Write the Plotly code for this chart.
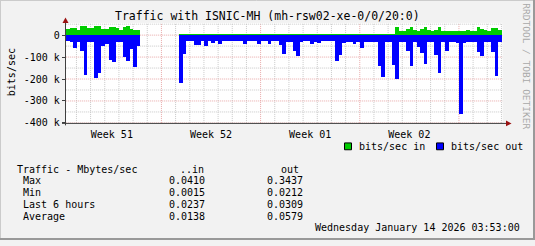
import plotly.graph_objects as go

W, H = 535, 246
nan = float("nan")

# ---- data (k bits/sec), one value per 6-hour step ----
in_k = ([27, 31, 31, 22, 40, 40, 31, 31, 40, 40, 27, 27, 36, 36, 31, 22, 36, 40, 27, 22, 22]
        + [nan] * 11
        + [4] * 60 + [7]
        + [36, 18, 18, 27, 36, 22, 18, 27, 36, 22, 18, 22, 36, 18, 18, 18, 18, 18, 18, 18,
           22, 18, 18, 36, 27, 22, 18, 31, 31, 22])

out_k = ([-25, -30, -56, -30, -70, -181, -30, -30, -196, -170, -47, -40, -114, -121, -33, -33,
          -100, -119, -62, -145, -47]
         + [nan] * 11
         + [-218, -84, -27, -27, -44, -44, -27, -47, -27, -36, -27, -38, -27, -27, -27, -27,
            -27, -27, -40, -27, -27, -27, -40, -27, -27, -38, -27, -27, -44, -84, -30, -30,
            -70, -96, -30, -25, -25, -40, -30, -36, -27, -27, -27, -27, -119, -89, -37, -30,
            -30, -40, -30, -59, -30, -30, -30, -30, -141, -190, -30, -30, -136]
         + [-200, -33, -33, -74, -141, -33, -55, -81, -132, -30, -33, -92, -170, -30, -70,
            -30, -30, -37, -358, -36, -33, -33, -33, -77, -96, -33, -33, -77, -185, -33])

steps = list(range(len(in_k)))

week_labels = ["Week 51", "Week 52", "Week 01", "Week 02"]
week_label_pos = [13, 41, 69, 97]
week_lines = [27, 55, 83, 111]
day_lines = [d for d in range(3, 124, 4) if d not in week_lines]

y_ticks = [0, -100, -200, -300, -400]
y_ticktext = ["0", "-100 k", "-200 k", "-300 k", "-400 k"]
y_minor = [50, -50, -150, -250, -350]

stats_rows = ["Max", "Min", "Last 6 hours", "Average"]
stats_in = ["0.0410", "0.0015", "0.0237", "0.0138"]
stats_out = ["0.3437", "0.0212", "0.0309", "0.0579"]

GREEN = "#00CC00"
BLUE = "#0000FF"
FONT = "DejaVu Sans Mono"
GRID = "#C8C8C8"
MGRID = "#E8A8A8"

X_RANGE = [0, 123.3]
Y_RANGE = [-400, 55.6]
PX_L, PX_R = 65.8, 502.5
PY_T, PY_B = 23.5, 126.0


def px(x):
    return x / W


def py(y):
    return 1 - y / H


fig = go.Figure()
fig.add_trace(go.Bar(x=steps, y=in_k, width=1, offset=0, marker=dict(color=GREEN, line=dict(width=0)),
                     showlegend=False, hoverinfo="skip"))
fig.add_trace(go.Bar(x=steps, y=out_k, width=1, offset=0, marker=dict(color=BLUE, line=dict(width=0)),
                     showlegend=False, hoverinfo="skip"))

shapes = []
dot = "1px,1px"
for d in day_lines:
    shapes.append(dict(type="line", xref="x", yref="y", x0=d, x1=d, y0=Y_RANGE[0], y1=Y_RANGE[1],
                       line=dict(color=GRID, width=1, dash=dot), layer="below"))
for d in week_lines:
    shapes.append(dict(type="line", xref="x", yref="y", x0=d, x1=d, y0=Y_RANGE[0], y1=Y_RANGE[1],
                       line=dict(color=MGRID, width=1, dash=dot), layer="below"))
for v in y_minor:
    shapes.append(dict(type="line", xref="x", yref="y", x0=X_RANGE[0], x1=X_RANGE[1], y0=v, y1=v,
                       line=dict(color=GRID, width=1, dash=dot), layer="below"))
for v in y_ticks:
    shapes.append(dict(type="line", xref="x", yref="y", x0=X_RANGE[0], x1=X_RANGE[1], y0=v, y1=v,
                       line=dict(color=MGRID, width=1, dash=dot), layer="below"))

AX = "#404040"
ARROW = "#9A1010"
# axes lines
shapes.append(dict(type="line", xref="paper", yref="paper", x0=px(65.5), x1=px(65.5), y0=py(128.5), y1=py(22),
                   line=dict(color=AX, width=1)))
shapes.append(dict(type="line", xref="paper", yref="paper", x0=px(62), x1=px(507), y0=py(126.5), y1=py(126.5),
                   line=dict(color=AX, width=1)))
# arrows
shapes.append(dict(type="path", xref="paper", yref="paper",
                   path=f"M {px(62.5)} {py(23.5)} L {px(68.5)} {py(23.5)} L {px(65.5)} {py(18)} Z",
                   fillcolor=ARROW, line=dict(width=0)))
shapes.append(dict(type="path", xref="paper", yref="paper",
                   path=f"M {px(506)} {py(123.5)} L {px(506)} {py(129.5)} L {px(511.5)} {py(126.5)} Z",
                   fillcolor=ARROW, line=dict(width=0)))
# legend boxes
shapes.append(dict(type="rect", xref="paper", yref="paper", x0=px(344.5), x1=px(351.5), y0=py(153.5), y1=py(146.5),
                   fillcolor=GREEN, line=dict(color="black", width=1)))
shapes.append(dict(type="rect", xref="paper", yref="paper", x0=px(436.5), x1=px(443.5), y0=py(153.5), y1=py(146.5),
                   fillcolor=BLUE, line=dict(color="black", width=1)))
# border shading
shapes.append(dict(type="line", xref="paper", yref="paper", x0=0, x1=1, y0=py(0.5), y1=py(0.5),
                   line=dict(color="#CBCBCB", width=1)))
shapes.append(dict(type="line", xref="paper", yref="paper", x0=px(0.5), x1=px(0.5), y0=0, y1=1,
                   line=dict(color="#CBCBCB", width=1)))
shapes.append(dict(type="line", xref="paper", yref="paper", x0=0, x1=1, y0=py(245), y1=py(245),
                   line=dict(color="#999999", width=2)))
shapes.append(dict(type="line", xref="paper", yref="paper", x0=px(534), x1=px(534), y0=0, y1=1,
                   line=dict(color="#999999", width=2)))

ann = []


def text(t, x, y, size=10, anchor="left", color="black", angle=0):
    ann.append(dict(text=t, x=px(x), y=py(y), xref="paper", yref="paper", showarrow=False,
                    xanchor=anchor, yanchor="middle", textangle=angle,
                    font=dict(family=FONT, size=size, color=color)))


text("Traffic with ISNIC-MH (mh-rsw02-xe-0/0/20:0)", 267.5, 16.5, size=11.5, anchor="center")
text("bits/sec", 11, 74, anchor="center", angle=-90)
text("RRDTOOL / TOBI OETIKER", 527, 68, size=9.5, anchor="center", color="#A8A8A8", angle=90)
text("bits/sec in", 357, 150)
text("bits/sec out", 449, 150)
text("Traffic - Mbytes/sec", 15, 174)
text("..in", 206, 174, anchor="right")
text("out", 279, 174)
for i, (r, a, b) in enumerate(zip(stats_rows, stats_in, stats_out)):
    yy = 185.5 + 12.1 * i
    text(r, 21, yy)
    text(a, 206.5, yy, anchor="right")
    text(b, 304.5, yy, anchor="right")
text("Wednesday January 14 2026 03:53:00", 521.5, 233, anchor="right")

fig.update_layout(
    width=W, height=H, margin=dict(l=0, r=0, t=0, b=0),
    paper_bgcolor="#F2F2F2", plot_bgcolor="#FFFFFF",
    barmode="overlay", bargap=0,
    shapes=shapes, annotations=ann,
    font=dict(family=FONT, size=10, color="black"),
    xaxis=dict(domain=[px(PX_L), px(PX_R)], range=X_RANGE, tickmode="array",
               tickvals=week_label_pos, ticktext=week_labels, ticks="", ticklabelstandoff=4,
               showgrid=False, zeroline=False, showline=False,
               tickfont=dict(family=FONT, size=10, color="black")),
    yaxis=dict(domain=[py(PY_B), py(PY_T)], range=Y_RANGE, tickmode="array",
               tickvals=y_ticks, ticktext=y_ticktext, ticks="outside", ticklen=3, tickcolor=AX,
               showgrid=False, zeroline=False, showline=False,
               tickfont=dict(family=FONT, size=10, color="black")),
)

fig.write_html("out.html")
